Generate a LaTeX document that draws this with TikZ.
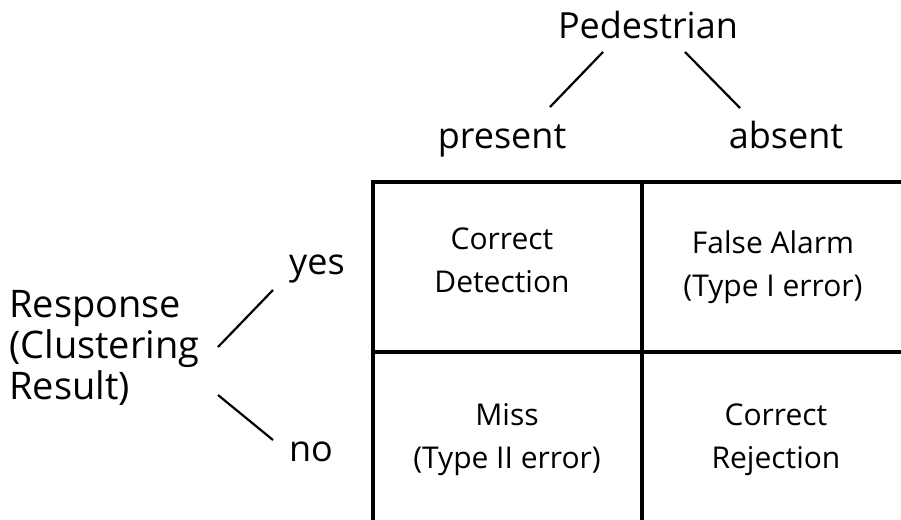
\documentclass[tikz,border=0pt]{standalone}
\usepackage{fontspec}
\setmainfont{Open Sans}
\begin{document}
\begin{tikzpicture}[x=1pt,y=-1pt,
  grid/.style={line width=4pt,line cap=rect},
  branch/.style={line width=2.2pt},
  label/.style={inner sep=0pt,font=\fontsize{36}{40}\selectfont},
  side/.style={inner sep=0pt,align=left,font=\fontsize{38}{41}\selectfont},
  cell/.style={inner sep=0pt,align=center,font=\fontsize{30}{43}\selectfont}]
  \useasboundingbox (0,0) rectangle (901,519);
  \fill[white] (0,0) rectangle (901,519);

  % column header tree
  \node[label,anchor=base] (ped) at (648,38) {Pedestrian};
  \node[label,anchor=base] (pres) at (502,148) {present};
  \node[label,anchor=base] (abs) at (786,148) {absent};
  \coordinate (pedL) at (603,52);
  \coordinate (pedR) at (685,52);
  \coordinate (presT) at (550,107);
  \coordinate (absT) at (740,108);
  \draw[branch] (pedL) -- (presT);
  \draw[branch] (pedR) -- (absT);

  % row header tree
  \node[side,anchor=west] (resp) at (9,348) {Response\\(Clustering\\Result)};
  \node[label,anchor=base] (yes) at (317,274) {yes};
  \node[label,anchor=base] (no) at (311,461) {no};
  \coordinate (respU) at (218,347);
  \coordinate (respD) at (218,395);
  \coordinate (yesB) at (273,290);
  \coordinate (noT) at (273,440);
  \draw[branch] (respU) -- (yesB);
  \draw[branch] (respD) -- (noT);

  % confusion table
  \draw[grid] (373,530) -- (373,182) -- (910,182);
  \draw[grid] (642,182) -- (642,530);
  \draw[grid] (373,352) -- (910,352);

  \node[cell] (tp) at (502,260) {Correct\\Detection};
  \node[cell] (fp) at (773,267) {False Alarm\\(Type I error)};
  \node[cell] (fn) at (507,440) {Miss\\(Type II error)};
  \node[cell] (tn) at (776,440) {Correct\\Rejection};
\end{tikzpicture}
\end{document}
